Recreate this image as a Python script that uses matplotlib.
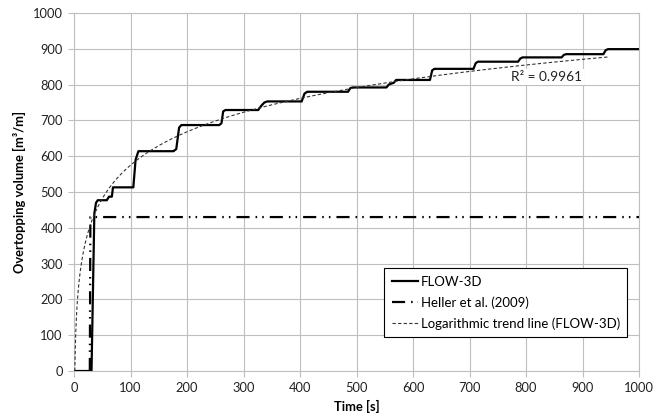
import matplotlib
matplotlib.use("Agg")
import matplotlib.pyplot as plt
import numpy as np

plt.rcParams['font.family'] = ['Lato', 'DejaVu Sans']

# FLOW-3D overtopping volume
flow_t = [0, 31, 36, 39, 42, 58, 62, 67, 69, 105, 109, 114, 176, 181, 186, 190,
          257, 261, 264, 268, 326, 331, 337, 342, 403, 408, 413, 485, 489, 493,
          553, 557, 562, 566, 570, 630, 634, 638, 707, 711, 715, 786, 790, 794,
          863, 867, 871, 937, 941, 945, 1000]
flow_v = [0, 0, 440, 470, 477, 477, 487, 487, 513, 513, 590, 614, 614, 620, 680, 687,
          687, 692, 725, 729, 729, 740, 750, 753, 753, 775, 780, 780, 790, 792,
          792, 800, 803, 805, 813, 813, 840, 844, 844, 860, 864, 864, 873, 876,
          876, 883, 885, 885, 896, 899, 899]

# Heller et al. (2009)
heller_t = [28, 29, 1000]
heller_v = [0, 430, 430]

# Logarithmic trend line parameters (y = a ln t + b)
trend_a = 134.6
trend_b = -45.0
trend_range = [1.4, 945]
r2_text = "R² = 0.9961"

x_ticks = [0, 100, 200, 300, 400, 500, 600, 700, 800, 900, 1000]
y_ticks = [0, 100, 200, 300, 400, 500, 600, 700, 800, 900, 1000]

fig = plt.figure(figsize=(6.65, 4.2), dpi=100)
ax = fig.add_axes([74/665, 1-371/420, 565/665, 358/420])

ax.plot(flow_t, flow_v, color='black', lw=1.6, label='FLOW-3D', zorder=4,
        solid_joinstyle='round')
hl, = ax.plot(heller_t, heller_v, color='black', lw=1.6, label='Heller et al. (2009)', zorder=3)
hl.set_dashes([5.9, 2.7, 0.7, 2.3, 0.7, 2.7])
tt = np.linspace(trend_range[0], trend_range[1], 600)
tl, = ax.plot(tt, trend_a*np.log(tt) + trend_b, color='#333333', lw=0.8,
              label='Logarithmic trend line (FLOW-3D)', zorder=5)
tl.set_dashes([3, 2])

ax.text(837, 821, r2_text, ha='center', va='center', fontsize=9.8, color='#222222',
        bbox=dict(facecolor='white', edgecolor='none', pad=1.5), zorder=6)

ax.set_xlim(0, 1000)
ax.set_ylim(0, 1000)
ax.set_xticks(x_ticks)
ax.set_yticks(y_ticks)
ax.grid(True, color='#bfbfbf', lw=0.8)
ax.set_axisbelow(True)
for s in ax.spines.values():
    s.set_color('#bfbfbf')
    s.set_linewidth(0.8)
ax.tick_params(axis='both', length=4, width=0.8, color='#bfbfbf', labelsize=9.3,
               labelcolor='#222222', pad=4)

ax.set_xlabel('Time [s]', fontsize=9.3, fontweight='bold', labelpad=4)
ax.set_ylabel('Overtopping volume [m³/m]', fontsize=9.3, fontweight='bold', labelpad=5)

leg = ax.legend(loc='upper right', bbox_to_anchor=(0.979, 0.287), fontsize=9.5,
                frameon=True, fancybox=False, framealpha=1, edgecolor='black',
                handlelength=2.0, handletextpad=0.2, labelspacing=0.65,
                borderpad=0.55, borderaxespad=0)
leg.get_frame().set_linewidth(0.8)
leg.set_zorder(10)

fig.savefig('out.png', dpi=100)
